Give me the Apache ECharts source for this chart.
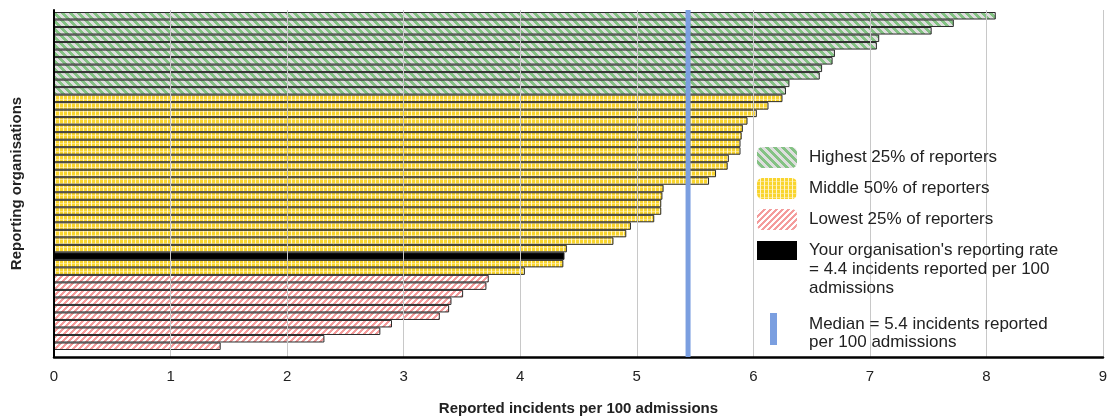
<!DOCTYPE html>
<html><head><meta charset="utf-8">
<script src="https://cdn.jsdelivr.net/npm/echarts@6/dist/echarts.min.js"></script>
<style>html,body{margin:0;padding:0;background:#fff}#c{width:1112px;height:416px}</style>
</head><body><div id="c"></div>
<script>
// ---- data ----
const highest = [8.08, 7.72, 7.53, 7.08, 7.06, 6.70, 6.68, 6.59, 6.57, 6.31, 6.28];
const middleAbove = [6.25, 6.13, 6.03, 5.95, 5.91, 5.90, 5.89, 5.89, 5.79, 5.78, 5.68, 5.62,
                     5.23, 5.22, 5.21, 5.21, 5.15, 4.95, 4.91, 4.80, 4.40];
const yourRate = [4.38];
const middleBelow = [4.37, 4.04];
const lowest = [3.73, 3.71, 3.51, 3.41, 3.39, 3.31, 2.90, 2.80, 2.32, 1.43];
const median = 5.44;
const xMin = 0, xMax = 9, xStep = 1;

const nameHigh = 'Highest 25% of reporters';
const nameMid = 'Middle 50% of reporters';
const nameLow = 'Lowest 25% of reporters';
const nameYour = "Your organisation's reporting rate";
const yourMore = '= 4.4 incidents reported per 100\nadmissions';
const nameMedian = 'Median';
const medianText = 'Median = 5.4 incidents reported\nper 100 admissions';
const xTitle = 'Reported incidents per 100 admissions';
const yTitle = 'Reporting organisations';

// ---- rows (top to bottom) ----
const rows = [].concat(
  highest.map(v => ['H', v]),
  middleAbove.map(v => ['M', v]),
  yourRate.map(v => ['Y', v]),
  middleBelow.map(v => ['M', v]),
  lowest.map(v => ['L', v])
);
const categories = rows.map((r, i) => 'Organisation ' + (i + 1));
const pick = k => rows.map(r => r[0] === k ? r[1] : '-');

// ---- fill patterns ----
function pattern(w, h, fn) {
  const c = document.createElement('canvas');
  c.width = w; c.height = h;
  const ctx = c.getContext('2d');
  for (let y = 0; y < h; y++) for (let x = 0; x < w; x++) {
    ctx.fillStyle = fn(x, y); ctx.fillRect(x, y, 1, 1);
  }
  return { image: c, repeat: 'repeat' };
}
const greenFill = pattern(8, 8, (x, y) => ((x - y + 64) % 8) < 4 ? '#84c284' : '#dedede');
const redFill = pattern(6, 6, (x, y) => ((x + y) % 6) < 3 ? '#f49c9c' : '#ffffff');
const yellowFill = pattern(4, 4, (x, y) => x % 4 === 3 ? '#fff6cc' : (y % 4 === 3 ? '#fbe37e' : '#f9d52e'));

const font = '"Liberation Sans", Arial, sans-serif';
const barBase = {
  type: 'bar', xAxisIndex: 0, yAxisIndex: 0, stack: 'orgs',
  barCategoryGap: '0%',
  itemStyle: { borderColor: '#2a2a2a', borderWidth: 1 }
};
const txt = { fontSize: 17, color: '#222', fontFamily: font, lineHeight: 19 };
const legendBase = {
  orient: 'vertical', padding: 0, selectedMode: false,
  itemStyle: { borderWidth: 0 },
  textStyle: Object.assign({}, txt, { padding: [0, 0, 0, 7] })
};

const chart = echarts.init(document.getElementById('c'), null, { renderer: 'canvas' });
chart.setOption({
  animation: false,
  backgroundColor: '#fff',
  grid: [
    { left: 54, right: 9, top: 12, bottom: 66, outerBoundsMode: 'none', containLabel: false },
    { left: 54, right: 9, top: 10, bottom: 59, outerBoundsMode: 'none', containLabel: false }
  ],
  title: [
    { text: yourMore, left: 809, top: 260, padding: 0,
      textStyle: Object.assign({}, txt, { fontWeight: 'normal' }) },
    { text: medianText, left: 809, top: 315, padding: 0,
      textStyle: Object.assign({}, txt, { fontWeight: 'normal', lineHeight: 18 }) }
  ],
  xAxis: [
    { gridIndex: 0, type: 'value', min: xMin, max: xMax, interval: xStep, show: false },
    { gridIndex: 1, type: 'value', min: xMin, max: xMax, interval: xStep, z: 3,
      axisLine: { show: true, lineStyle: { color: '#000', width: 2.5 } },
      axisTick: { show: false },
      splitLine: { show: true, lineStyle: { color: '#c8c8c8', width: 1 } },
      axisLabel: { fontSize: 15, color: '#222', margin: 12, fontFamily: font },
      name: xTitle, nameLocation: 'middle', nameGap: 44,
      nameTextStyle: { fontSize: 15, fontWeight: 'bold', color: '#222', fontFamily: font } }
  ],
  yAxis: [
    { gridIndex: 0, type: 'category', data: categories, inverse: true, show: false },
    { gridIndex: 1, type: 'value', min: 0, max: 1, z: 3,
      axisLine: { show: true, lineStyle: { color: '#000', width: 2 } },
      axisTick: { show: false }, axisLabel: { show: false }, splitLine: { show: false },
      name: yTitle, nameLocation: 'middle', nameGap: 30, nameRotate: 90,
      nameTextStyle: { fontSize: 15, fontWeight: 'bold', color: '#222', fontFamily: font } }
  ],
  legend: [
    Object.assign({}, legendBase, {
      data: [nameHigh, nameMid, nameLow], left: 757, top: 147,
      itemWidth: 40, itemHeight: 21, itemGap: 10
    }),
    Object.assign({}, legendBase, {
      data: [{ name: nameYour, icon: 'rect' }], left: 757, top: 241,
      itemWidth: 40, itemHeight: 19
    }),
    Object.assign({}, legendBase, {
      data: [{ name: nameMedian, icon: 'rect' }], left: 770, top: 313,
      itemWidth: 7, itemHeight: 32,
      formatter: () => ''
    })
  ],
  series: [
    Object.assign({}, barBase, { name: nameHigh, data: pick('H'), itemStyle: Object.assign({}, barBase.itemStyle, { color: greenFill }) }),
    Object.assign({}, barBase, { name: nameMid, data: pick('M'), itemStyle: Object.assign({}, barBase.itemStyle, { color: yellowFill }) }),
    Object.assign({}, barBase, { name: nameLow, data: pick('L'), itemStyle: Object.assign({}, barBase.itemStyle, { color: redFill }) }),
    Object.assign({}, barBase, { name: nameYour, data: pick('Y'), itemStyle: Object.assign({}, barBase.itemStyle, { color: '#000' }) }),
    { name: nameMedian, type: 'line', xAxisIndex: 1, yAxisIndex: 1, z: 5,
      data: [[median, 0], [median, 1]], symbol: 'none', silent: true,
      lineStyle: { width: 5, color: '#7b9fe0' }, itemStyle: { color: '#7b9fe0' } }
  ]
});
</script></body></html>
